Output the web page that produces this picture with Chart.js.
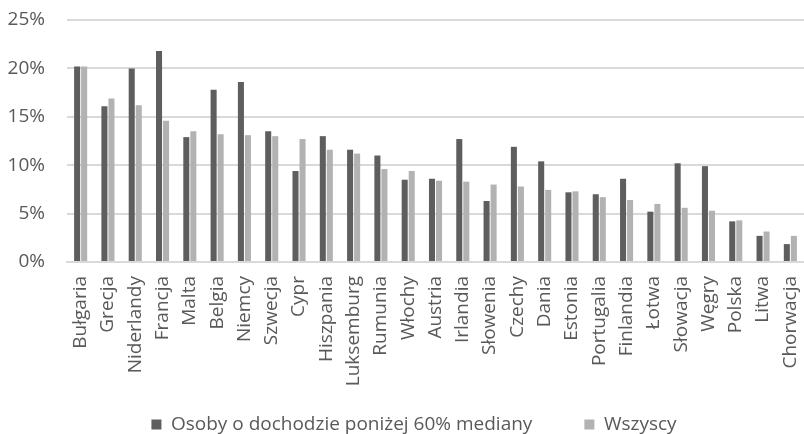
<!DOCTYPE html>
<html lang="pl">
<head>
<meta charset="utf-8">
<script src="https://cdn.jsdelivr.net/npm/chart.js@4"></script>
<style>
  html, body { margin: 0; padding: 0; background: #ffffff; }
  #wrap { width: 804px; height: 434px; position: relative; }
</style>
</head>
<body>
<div id="wrap"><canvas id="chart" width="804" height="434"></canvas></div>
<script>
// Kraje UE
const countries = ['Bułgaria','Grecja','Niderlandy','Francja','Malta','Belgia','Niemcy','Szwecja','Cypr','Hiszpania','Luksemburg','Rumunia','Włochy','Austria','Irlandia','Słowenia','Czechy','Dania','Estonia','Portugalia','Finlandia','Łotwa','Słowacja','Węgry','Polska','Litwa','Chorwacja'];

// Udział procentowy – osoby o dochodzie poniżej 60% mediany
const belowMedian = [20.2,16.1,20.0,21.8,12.9,17.8,18.6,13.5,9.4,13.0,11.6,11.0,8.5,8.6,12.7,6.3,11.9,10.4,7.2,7.0,8.6,5.2,10.2,9.9,4.2,2.7,1.85];

// Udział procentowy – wszyscy
const everyone = [20.2,16.9,16.2,14.6,13.5,13.2,13.1,13.0,12.7,11.6,11.2,9.6,9.4,8.4,8.3,8.0,7.8,7.45,7.3,6.7,6.4,6.0,5.6,5.3,4.3,3.15,2.7];

const seriesNames = ['Osoby o dochodzie poniżej 60% mediany', 'Wszyscy'];
const yTicks = [0, 5, 10, 15, 20, 25];

const textColor = '#595959';
const gridColor = '#d9d9d9';
const fontFamily = '"Open Sans", "Liberation Sans", sans-serif';

// Po rozmieszczeniu: legenda niżej i nieco w prawo,
// a obszar etykiet osi X sięga do dołu płótna (długie nazwy krajów)
const layoutTweak = {
  id: 'layoutTweak',
  afterLayout(chart) {
    const lg = chart.legend;
    if (lg) {
      const dx = 12, dy = 10;
      lg.left += dx; lg.right += dx;
      lg.top += dy; lg.bottom += dy;
    }
    const x = chart.scales.x;
    if (x) x.bottom = chart.height;
  }
};

new Chart(document.getElementById('chart'), {
  type: 'bar',
  data: {
    labels: countries,
    datasets: [
      { label: seriesNames[0], data: belowMedian, backgroundColor: '#5e5e5e', borderWidth: 0 },
      { label: seriesNames[1], data: everyone, backgroundColor: '#b2b2b2', borderWidth: 0 }
    ]
  },
  plugins: [layoutTweak],
  options: {
    responsive: false,
    animation: false,
    devicePixelRatio: 1,
    layout: { padding: { top: 20, right: 0, left: 0, bottom: 0 } },
    datasets: { bar: { categoryPercentage: 0.515, barPercentage: 0.86 } },
    plugins: {
      tooltip: { enabled: false },
      legend: {
        position: 'bottom',
        labels: {
          color: textColor,
          font: { family: fontFamily, size: 19 },
          boxWidth: 10,
          boxHeight: 10,
          padding: 52
        }
      }
    },
    scales: {
      x: {
        grid: { display: false, drawTicks: false },
        border: { display: true, color: gridColor, width: 2 },
        ticks: {
          color: textColor,
          font: { family: fontFamily, size: 19 },
          minRotation: 90,
          maxRotation: 90,
          autoSkip: false,
          padding: 14
        },
        afterFit: (s) => {
          s.height = 91;
          s.paddingLeft = 0;
          s.paddingRight = 0;
        }
      },
      y: {
        min: 0,
        max: 25,
        afterBuildTicks: (s) => { s.ticks = yTicks.map(v => ({ value: v })); },
        grid: { color: gridColor, lineWidth: 2, drawTicks: false },
        border: { display: false },
        ticks: {
          color: textColor,
          font: { family: fontFamily, size: 19 },
          padding: 22,
          callback: (v) => v + '%'
        },
        afterFit: (s) => {
          s.width = 67;
          s.paddingTop = 0;
          s.paddingBottom = 0;
        }
      }
    }
  }
});
</script>
</body>
</html>
